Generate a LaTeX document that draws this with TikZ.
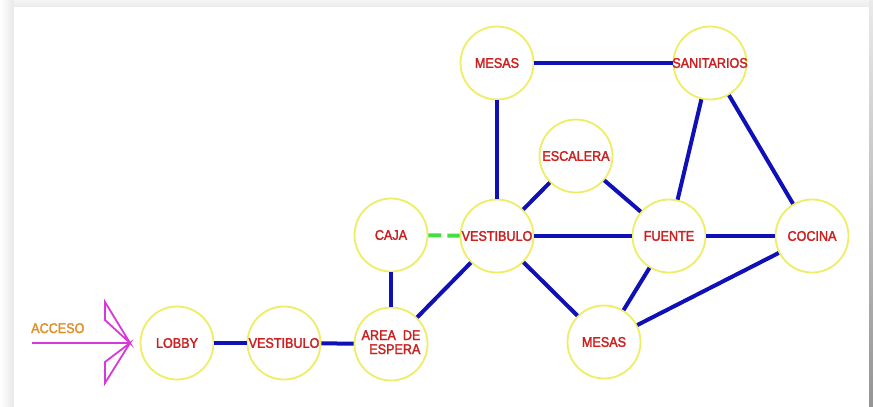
\documentclass[tikz,border=0pt]{standalone}
\usepackage{fontspec}
\newfontfamily\lblfont{Liberation Sans}[FakeStretch=0.9, FakeBold=2]
\definecolor{roomyellow}{HTML}{EEEE66}
\definecolor{roomred}{HTML}{CC2020}
\definecolor{linkblue}{HTML}{1010B8}
\definecolor{linkgreen}{HTML}{44DD44}
\definecolor{accessmag}{HTML}{D838D8}
\definecolor{accessorange}{HTML}{E0902A}
\newcommand{\roomtext}[1]{\makebox[0pt][c]{#1}}
\begin{document}
\begin{tikzpicture}[x=1pt,y=-1pt,
  room/.style={circle, draw=roomyellow, line width=1.8pt, minimum size=73pt,
    inner sep=0pt, font=\lblfont\fontsize{14}{15}\selectfont, text=roomred},
  link/.style={draw=linkblue, line width=4pt},
  optlink/.style={draw=linkgreen, line width=4pt, dash pattern=on 13pt off 6pt},
  access/.style={draw=accessmag, line width=1.8pt, line join=miter}
]
\useasboundingbox (0,0) rectangle (873,407);
% page frame with its soft shadow
\shade[left color=white, right color=black!9] (0,0) rectangle (14,407);
\shade[top color=black!4, bottom color=black!8] (14,0) rectangle (869,7);
\shade[top color=black!8, bottom color=black!42] (869,0) rectangle (873,407);
\fill[white] (14,7) rectangle (869,407);

% rooms
\node[room] (lobby)  at (177,343) {\roomtext{LOBBY}};
\node[room] (vest1)  at (284,343) {\roomtext{VESTIBULO}};
\node[room] (espera) at (391,344) {\roomtext{\begin{tabular}{@{}r@{}}AREA\ \ DE\\[-1pt]ESPERA\end{tabular}}};
\node[room] (caja)   at (391,235) {\roomtext{CAJA}};
\node[room] (vest2)  at (497,236) {\roomtext{VESTIBULO}};
\node[room] (mesas1) at (497,63)  {\roomtext{MESAS}};
\node[room] (sanit)  at (710,63)  {\roomtext{SANITARIOS}};
\node[room] (escal)  at (576,156) {\roomtext{ESCALERA}};
\node[room] (fuente) at (669,236) {\roomtext{FUENTE}};
\node[room] (cocina) at (812,236) {\roomtext{COCINA}};
\node[room] (mesas2) at (604,342) {\roomtext{MESAS}};

% connections
\draw[link] (lobby) -- (vest1);
\draw[link] (vest1) -- (espera);
\draw[link] (espera) -- (caja);
\draw[link] (espera) -- (vest2);
\draw[optlink] (caja) -- (vest2);
\draw[link] (vest2) -- (mesas1);
\draw[link] (vest2) -- (escal);
\draw[link] (vest2) -- (fuente);
\draw[link] (vest2) -- (mesas2);
\draw[link] (mesas1) -- (sanit);
\draw[link] (escal) -- (fuente);
\draw[link] (fuente) -- (sanit);
\draw[link] (sanit) -- (cocina);
\draw[link] (fuente) -- (cocina);
\draw[link] (fuente) -- (mesas2);
\draw[link] (cocina) -- (mesas2);

% entrance arrow
\coordinate (acctail) at (32,343);
\coordinate (acctip) at (130,343);
\draw[access] (acctail) -- (acctip);
\draw[access] (acctip) -- (105,302) -- (105,320) -- cycle;
\draw[access] (acctip) -- (105,383) -- (105,362) -- cycle;
\node[font=\lblfont\fontsize{14}{15}\selectfont, text=accessorange, anchor=base west, inner sep=0pt]
  (acclabel) at (31,333) {ACCESO};
\end{tikzpicture}
\end{document}
